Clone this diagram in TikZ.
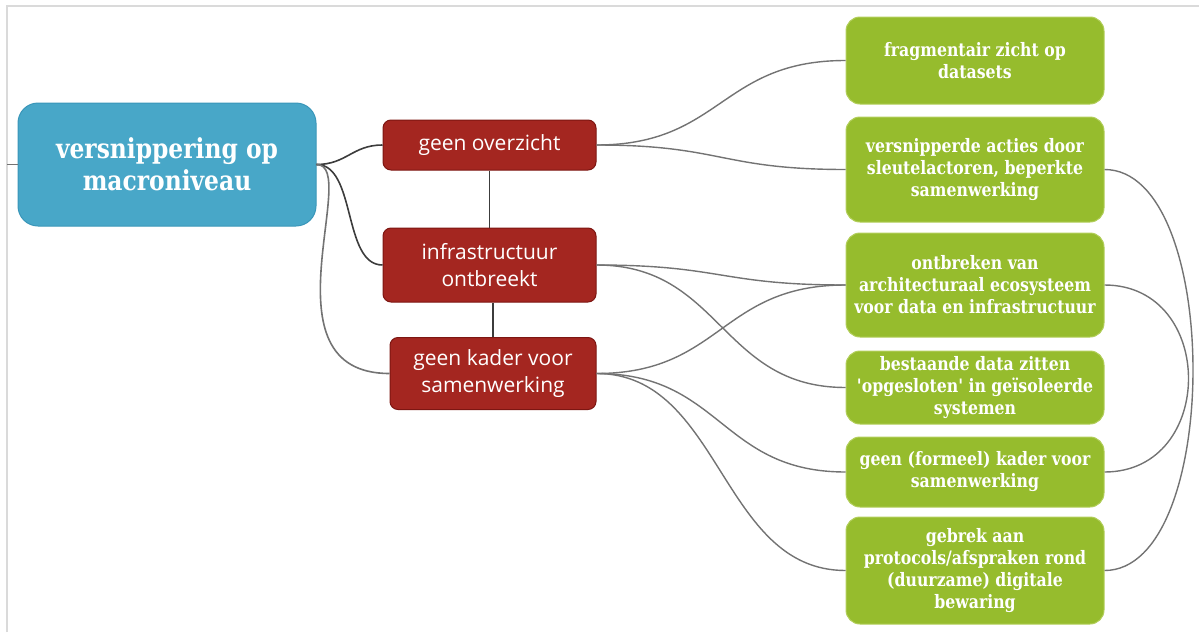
\documentclass[tikz,border=0pt]{standalone}
\usepackage{fontspec}
\setmainfont{Open Sans}
\newfontfamily\slab{DejaVu Serif}[FakeStretch=0.85]

\definecolor{rootblue}{RGB}{72,167,200}
\definecolor{rootblueedge}{RGB}{58,150,185}
\definecolor{causered}{RGB}{164,38,32}
\definecolor{causerededge}{RGB}{125,22,18}
\definecolor{effectgreen}{RGB}{150,188,45}
\definecolor{effectgreenedge}{RGB}{178,206,90}
\definecolor{framegray}{RGB}{218,218,218}
\definecolor{trunkgray}{RGB}{60,60,60}
\definecolor{branchgray}{RGB}{115,115,115}

\begin{document}
\begin{tikzpicture}[x=1pt,y=-1pt,
  root/.style={rounded corners=20pt, fill=rootblue, draw=rootblueedge, line width=1pt,
    text=white, align=center, inner sep=0pt,
    font=\slab\bfseries\fontsize{27.5}{32}\selectfont},
  cause/.style={rounded corners=8pt, fill=causered, draw=causerededge, line width=1pt,
    text=white, align=center, inner sep=0pt,
    font=\fontsize{21}{27.5}\selectfont},
  effect/.style={rounded corners=14pt, fill=effectgreen, draw=effectgreenedge, line width=1pt,
    text=white, align=center, inner sep=0pt, minimum width=258pt,
    font=\slab\bfseries\fontsize{18.5}{22}\selectfont},
  trunk/.style={draw=trunkgray, line width=1.6pt},
  branch/.style={draw=branchgray, line width=1.4pt},
  tie/.style={draw=trunkgray, line width=1.8pt}]

\useasboundingbox (0,0) rectangle (1199,632);

% outer frame (top and left edges)
\coordinate (fbl) at (7,632);
\coordinate (ftl) at (7,6);
\coordinate (ftr) at (1199,6);
\draw[framegray, line width=1.8pt] (fbl) -- (ftl) -- (ftr);

% central topic
\node[root, minimum width=298pt, minimum height=123pt] (root) at (167,164.5)
  {versnippering op\\macroniveau};
\coordinate (stub) at (7,164.5);
\draw[trunk, draw=branchgray, line width=1.2pt] (stub) -- (root.west);

% causes
\node[cause, minimum width=213pt, minimum height=50pt] (r1) at (489.5,145) {geen overzicht};
\node[cause, minimum width=213pt, minimum height=74pt] (r2) at (489.5,265) {infrastructuur\\ontbreekt};
\node[cause, minimum width=206pt, minimum height=72pt] (r3) at (493,373.5) {geen kader voor\\samenwerking};

% effects
\node[effect, minimum height=87pt]  (g1) at (975,60.5)  {fragmentair zicht op\\datasets};
\node[effect, minimum height=105pt] (g2) at (975,169.5) {versnipperde acties door\\sleutelactoren, beperkte\\samenwerking};
\node[effect, minimum height=104pt] (g3) at (975,285)   {ontbreken van\\architecturaal ecosysteem\\voor data en infrastructuur};
\node[effect, minimum height=73pt]  (g4) at (975,387.5) {bestaande data zitten\\'opgesloten' in geïsoleerde\\systemen};
\node[effect, minimum height=70pt]  (g5) at (975,472)   {geen (formeel) kader voor\\samenwerking};
\node[effect, minimum height=107pt] (g6) at (975,570.5) {gebrek aan\\protocols/afspraken rond\\(duurzame) digitale\\bewaring};

% topic to causes
\draw[trunk] (root.east) .. controls +(30,0) and +(-30,0) .. (r1.west);
\draw[trunk] (root.east) .. controls +(40,0) and +(-40,0) .. (r2.west);
\draw[trunk, draw=branchgray] (root.east) .. controls +(45,0) and +(-130,0) .. (r3.west);

% ties between causes
\draw[tie] (r1.south) -- (r2.north);
\draw[tie] (r3.north |- r2.south) -- (r3.north);

% causes to effects
\draw[branch] (r1.east) .. controls +(125,0) and +(-125,0) .. (g1.west);
\draw[branch] (r1.east) .. controls +(125,0) and +(-125,0) .. (g2.west);
\draw[branch] (r2.east) .. controls +(125,0) and +(-125,0) .. (g3.west);
\draw[branch] (r2.east) .. controls +(125,0) and +(-125,0) .. (g4.west);
\draw[branch] (r3.east) .. controls +(125,0) and +(-125,0) .. (g3.west);
\draw[branch] (r3.east) .. controls +(125,0) and +(-125,0) .. (g5.west);
\draw[branch] (r3.east) .. controls +(125,0) and +(-125,0) .. (g6.west);

% links between effects
\draw[branch] (g2.east) .. controls +(118,0) and +(118,0) .. (g6.east);
\draw[branch] (g3.east) .. controls +(112,0) and +(112,0) .. (g5.east);

\end{tikzpicture}
\end{document}
